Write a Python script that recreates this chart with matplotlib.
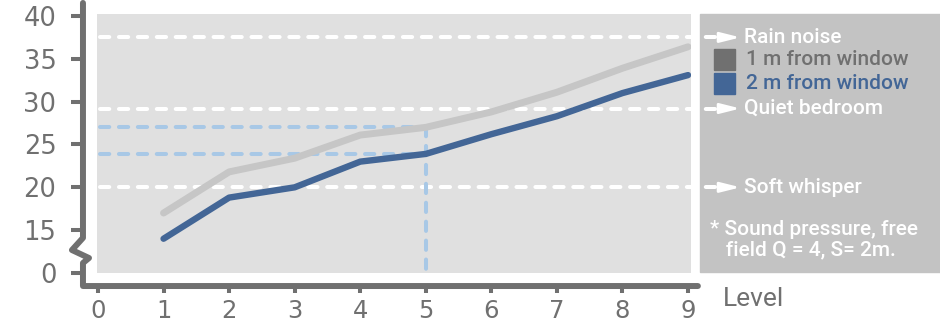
import matplotlib
matplotlib.use('Agg')
import matplotlib.pyplot as plt
from matplotlib.patches import Rectangle

# data
levels = [1, 2, 3, 4, 5, 6, 7, 8, 9]
one_m = [17.0, 21.8, 23.4, 26.1, 27.0, 28.8, 31.1, 33.9, 36.4]
two_m = [14.0, 18.8, 20.0, 23.0, 23.9, 26.2, 28.3, 31.0, 33.1]
x_ticks = list(range(10))
y_ticks = [10, 15, 20, 25, 30, 35, 40]
y_tick_labels = ['0', '15', '20', '25', '30', '35', '40']
ref_names = ['Rain noise', 'Quiet bedroom', 'Soft whisper']
ref_values = [37.5, 29.2, 20.0]
mark_level = 5

GRAY = '#707070'
BLUE = '#436696'
LIGHT = '#c6c6c6'
PALE_BLUE = '#a8c8e6'
NARROW = ['Liberation Sans Narrow', 'DejaVu Sans Condensed', 'Roboto', 'DejaVu Sans']

fig = plt.figure(figsize=(9.4, 3.26), dpi=100)
ax = fig.add_axes([97 / 940, 53 / 326, 594 / 940, 259 / 326])
ax.set_zorder(2)
ax.set_facecolor('#e0e0e0')
ax.set_xlim(-0.015, 9.045)
ax.set_ylim(10, 40.23)

# side panel (behind the axes so the labels drawn by ax stay on top)
fig.patches.append(Rectangle((700 / 940, 54 / 326), 240 / 940, 258 / 326,
                             transform=fig.transFigure, color='#c3c3c3', zorder=0))

for s in ax.spines.values():
    s.set_visible(False)
ax.spines['left'].set_position(('outward', 10.1))
ax.spines['bottom'].set_position(('outward', 9.4))

# hand drawn axis with the break mark
sx = [-0.229, -0.229, -0.397, -0.137, -0.229, -0.229, 9.15]
sy = [41.52, 14.1, 12.68, 11.75, 11.17, 8.48, 8.48]
ax.plot(sx, sy, color=GRAY, lw=4.3, clip_on=False, solid_capstyle='round',
        solid_joinstyle='round', zorder=5)

ax.set_xticks(x_ticks)
ax.set_yticks(y_ticks)
ax.set_yticklabels(y_tick_labels)
ax.tick_params(axis='y', length=8.6, width=2.9, color=GRAY, labelcolor=GRAY,
               labelsize=18.5, pad=10.5)
ax.tick_params(axis='x', length=5.2, width=2.9, color=GRAY, labelcolor=GRAY,
               labelsize=17.5, pad=4)

dash = dict(lw=2.9, dashes=(2.3, 2.4), dash_capstyle='round', clip_on=False)
panel_font = dict(fontsize=15, family=NARROW, weight='medium')

# reference levels, running into the side panel with arrows
for name, val in zip(ref_names, ref_values):
    ax.plot([0.03, 9.55], [val, val], color='white', zorder=2, **dash)
    ax.annotate('', xy=(9.8, val), xytext=(9.5, val),
                arrowprops=dict(arrowstyle='-|>,head_length=1.2,head_width=0.3',
                                color='white', lw=2.0, shrinkA=0, shrinkB=0),
                annotation_clip=False)
    ax.text(9.86, val, name, color='white', va='center', ha='left', **panel_font)

# level 5 guides
i = levels.index(mark_level)
for val in (one_m[i], two_m[i]):
    ax.plot([0.03, mark_level], [val, val], color=PALE_BLUE, zorder=2, **dash)
ax.plot([mark_level, mark_level], [one_m[i], 10.1], color=PALE_BLUE, zorder=2, **dash)

ax.plot(levels, one_m, color=LIGHT, lw=5.0, solid_capstyle='round',
        solid_joinstyle='round', zorder=3)
ax.plot(levels, two_m, color=BLUE, lw=4.6, solid_capstyle='round',
        solid_joinstyle='round', zorder=4)

# legend in the panel
for yv, col, lab in [(34.9, GRAY, '1 m from window'), (32.1, BLUE, '2 m from window')]:
    ax.add_patch(Rectangle((9.4, yv - 1.22), 0.32, 2.44, color=col, clip_on=False))
    ax.text(9.88, yv, lab, color=col, va='center', ha='left', **panel_font)

ax.text(9.34, 13.9, '* Sound pressure, free\n   field Q = 4, S= 2m.', color='white',
        va='center', ha='left', linespacing=1.1, **panel_font)

ax.text(9.53, 7.0, 'Level', color=GRAY, fontsize=19, family=NARROW,
        va='center', ha='left', clip_on=False)

fig.savefig('out.png', dpi=100)
